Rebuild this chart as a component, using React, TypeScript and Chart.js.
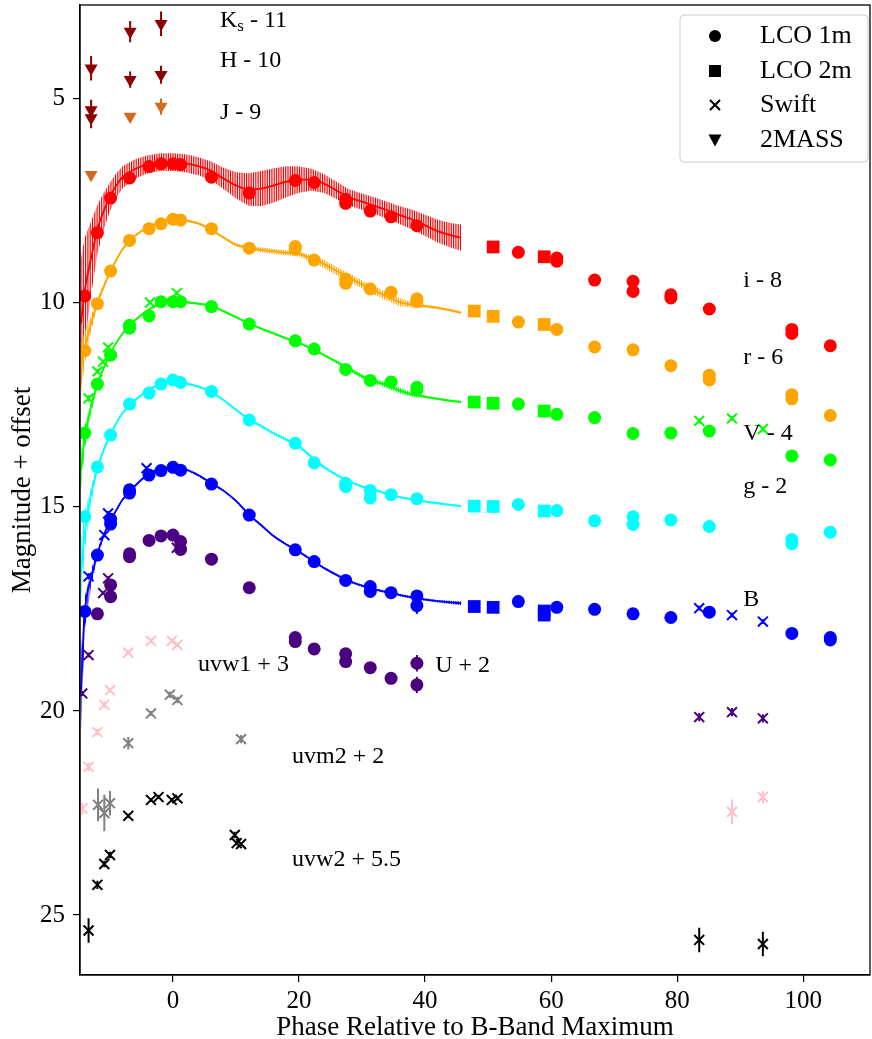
import React, { useEffect, useRef } from 'react';
import { Chart, registerables } from 'chart.js';

Chart.register(...registerables);

type P = [number, number, number?];

const FONT = "'Liberation Serif', 'Times New Roman', serif";

const xTicks = [0, 20, 40, 60, 80, 100];
const yTicks = [5, 10, 15, 20, 25];

// colours
const cI = '#ff0000';
const cR = '#ffa500';
const cV = '#00ff00';
const cG = '#00ffff';
const cB = '#0000ff';
const cU = '#4b0082';
const cW1 = '#ffc0cb';
const cM2 = '#808080';
const cW2 = '#000000';
const cKH = '#8b0000';
const cJ = '#d2691e';

// model light-curve fits (phase, magnitude, error)
const modelPhase = [-14.6, -14, -13, -12, -11, -10, -9, -8, -6, -4, -2, 0, 2, 4, 6, 8, 10, 12, 14, 16, 18, 20, 22, 24, 26, 28, 30, 32, 34, 36, 38, 40, 42, 44, 45.7];
const iModel = [10.5, 9.7, 8.9, 8.2, 7.75, 7.4, 7.12, 6.92, 6.72, 6.6, 6.55, 6.55, 6.58, 6.65, 6.76, 6.95, 7.12, 7.22, 7.2, 7.12, 7.03, 6.98, 6.98, 7.08, 7.25, 7.42, 7.52, 7.62, 7.73, 7.85, 7.96, 8.1, 8.24, 8.34, 8.4];
const iModelErr = [1.6, 1.3, 0.9, 0.6, 0.45, 0.35, 0.3, 0.27, 0.24, 0.22, 0.22, 0.22, 0.22, 0.22, 0.23, 0.26, 0.32, 0.4, 0.43, 0.42, 0.38, 0.32, 0.27, 0.23, 0.21, 0.2, 0.2, 0.2, 0.21, 0.22, 0.24, 0.26, 0.28, 0.3, 0.32];
const rModel = [11.6, 11.1, 10.5, 10.0, 9.6, 9.25, 8.95, 8.68, 8.35, 8.15, 8.0, 7.93, 7.98, 8.05, 8.2, 8.4, 8.58, 8.65, 8.7, 8.74, 8.77, 8.8, 8.92, 9.05, 9.22, 9.38, 9.55, 9.7, 9.85, 9.98, 10.05, 10.08, 10.12, 10.18, 10.24];
const rModelErr = [0.6, 0.4, 0.2, 0.1, 0.06, 0.05, 0.04, 0.03, 0.03, 0.03, 0.03, 0.03, 0.03, 0.03, 0.03, 0.03, 0.04, 0.05, 0.06, 0.06, 0.06, 0.06, 0.08, 0.1, 0.1, 0.1, 0.1, 0.1, 0.1, 0.1, 0.06, 0.04, 0.03, 0.03, 0.03];
const vModel = [14.1, 13.3, 12.55, 12.0, 11.6, 11.25, 10.98, 10.75, 10.42, 10.18, 10.02, 9.97, 9.98, 10.02, 10.07, 10.2, 10.35, 10.5, 10.63, 10.75, 10.87, 10.98, 11.12, 11.28, 11.45, 11.62, 11.8, 11.92, 12.02, 12.15, 12.25, 12.3, 12.35, 12.4, 12.43];
const vModelErr = [0.5, 0.3, 0.15, 0.08, 0.05, 0.04, 0.03, 0.03, 0.03, 0.03, 0.03, 0.03, 0.03, 0.03, 0.03, 0.03, 0.03, 0.03, 0.03, 0.03, 0.03, 0.03, 0.03, 0.03, 0.04, 0.05, 0.05, 0.06, 0.07, 0.07, 0.05, 0.03, 0.03, 0.03, 0.03];
const gModel = [16.6, 15.6, 14.7, 14.05, 13.6, 13.25, 12.95, 12.7, 12.38, 12.15, 11.98, 11.93, 11.97, 12.05, 12.17, 12.38, 12.62, 12.85, 13.02, 13.2, 13.35, 13.52, 13.78, 14.03, 14.22, 14.38, 14.5, 14.58, 14.68, 14.76, 14.82, 14.87, 14.91, 14.95, 14.98];
const gModelErr = [0.8, 0.5, 0.2, 0.1, 0.06, 0.04, 0.03, 0.03, 0.03, 0.03, 0.03, 0.03, 0.03, 0.03, 0.03, 0.03, 0.03, 0.03, 0.04, 0.04, 0.04, 0.04, 0.04, 0.04, 0.03, 0.03, 0.03, 0.03, 0.03, 0.03, 0.03, 0.03, 0.03, 0.03, 0.03];
const bModel = [19.5, 17.6, 16.75, 16.15, 15.7, 15.35, 15.08, 14.82, 14.48, 14.2, 14.06, 14.03, 14.08, 14.22, 14.41, 14.6, 14.85, 15.18, 15.45, 15.72, 15.92, 16.1, 16.3, 16.5, 16.67, 16.82, 16.93, 17.02, 17.09, 17.16, 17.22, 17.27, 17.31, 17.34, 17.36];
const bModelErr = [1.0, 0.4, 0.2, 0.1, 0.06, 0.04, 0.03, 0.03, 0.03, 0.03, 0.03, 0.03, 0.03, 0.03, 0.03, 0.03, 0.03, 0.03, 0.03, 0.03, 0.03, 0.03, 0.03, 0.03, 0.03, 0.03, 0.03, 0.03, 0.03, 0.03, 0.03, 0.03, 0.03, 0.04, 0.05];

// i - 8
const iLco1m: P[] = [[-14, 9.83], [-12, 8.28], [-9.9, 7.43], [-6.9, 6.94], [-3.8, 6.66], [-1.9, 6.59], [0, 6.59], [1.2, 6.61], [6.1, 6.92], [12.1, 7.31], [19.4, 7.0], [22.4, 7.05], [27.4, 7.46], [27.4, 7.56], [31.3, 7.75], [34.6, 7.89], [38.7, 8.11], [54.8, 8.76], [60.9, 8.9], [60.9, 8.98], [66.9, 9.44], [73, 9.47], [73, 9.72], [79, 9.8], [79, 9.88], [85.1, 10.15], [98.2, 10.65], [98.2, 10.75], [104.3, 11.05]];
const iLco2m: P[] = [[50.8, 8.63], [58.9, 8.87]];
// r - 6
const rLco1m: P[] = [[-14, 11.17], [-12, 10.02], [-9.9, 9.22], [-6.9, 8.47], [-3.8, 8.18], [-1.9, 8.06], [0, 7.95], [1.2, 7.97], [6.1, 8.18], [12.1, 8.66], [19.4, 8.62], [19.4, 8.68], [22.4, 8.95], [27.4, 9.42], [27.4, 9.52], [31.3, 9.66], [34.6, 9.74], [38.7, 9.9], [38.7, 9.97], [54.8, 10.47], [60.9, 10.65], [66.9, 11.08], [73, 11.15], [79, 11.54], [85.1, 11.77], [85.1, 11.89], [98.2, 12.25], [98.2, 12.35], [104.3, 12.76]];
const rLco2m: P[] = [[47.8, 10.2], [50.8, 10.33], [58.9, 10.53]];
// V - 4
const vLco1m: P[] = [[-14, 13.19], [-12, 11.99], [-9.9, 11.28], [-6.9, 10.55], [-6.9, 10.62], [-3.8, 10.32], [-1.9, 9.97], [0, 9.97], [1.2, 9.97], [6.1, 10.09], [12.1, 10.52], [19.4, 10.93], [22.4, 11.13], [27.4, 11.63], [31.3, 11.9], [34.6, 11.94], [38.7, 12.07], [38.7, 12.13], [54.8, 12.48], [60.9, 12.73], [66.9, 12.81], [73, 13.2], [79, 13.19], [85.1, 13.14], [98.2, 13.75], [104.3, 13.85]];
const vLco2m: P[] = [[47.8, 12.43], [50.8, 12.46], [58.9, 12.65]];
const vSwift: P[] = [[-13.4, 12.34, 0.08], [-12, 11.68, 0.06], [-11.1, 11.44, 0.05], [-10.3, 11.09, 0.05], [-3.65, 9.99, 0.04], [0.6, 9.76, 0.04], [83.5, 12.89, 0.06], [88.7, 12.83, 0.06], [93.6, 13.09, 0.06]];
// g - 2
const gLco1m: P[] = [[-14, 15.24], [-12, 14.02], [-9.9, 13.24], [-6.9, 12.48], [-3.8, 12.21], [-1.9, 11.99], [0, 11.89], [1.2, 11.95], [6.1, 12.17], [12.1, 12.87], [19.4, 13.44], [22.4, 13.92], [27.4, 14.42], [27.4, 14.5], [31.3, 14.6], [31.3, 14.78], [34.6, 14.7], [38.7, 14.8], [54.8, 14.94], [60.9, 15.09], [66.9, 15.34], [73, 15.24], [73, 15.43], [79, 15.32], [85.1, 15.48], [98.2, 15.8], [98.2, 15.9], [104.3, 15.62]];
const gLco2m: P[] = [[47.8, 14.98], [50.8, 14.99], [58.9, 15.1]];
// B
const bLco1m: P[] = [[-14, 17.56], [-12, 16.18], [-9.9, 15.3], [-9.9, 15.42], [-6.9, 14.58], [-6.9, 14.66], [-3.8, 14.22], [-1.9, 14.11], [0, 14.03], [1.2, 14.1], [6.1, 14.44], [12.1, 15.2], [19.4, 16.05], [22.4, 16.34], [27.4, 16.8], [31.3, 16.95], [31.3, 17.07], [34.6, 17.1], [38.7, 17.18], [38.7, 17.42, 0.2], [54.8, 17.32], [60.9, 17.46], [66.9, 17.51], [73, 17.62], [79, 17.71], [85.1, 17.58], [98.2, 18.1], [104.3, 18.2], [104.3, 18.26]];
const bLco2m: P[] = [[47.8, 17.44], [50.8, 17.46], [58.9, 17.55], [58.9, 17.65]];
const bSwift: P[] = [[-13.4, 16.7, 0.08], [-10.9, 15.69, 0.06], [-10.3, 15.16, 0.06], [-4.2, 14.05, 0.05], [83.5, 17.48, 0.06], [88.7, 17.65, 0.06], [93.6, 17.81, 0.06]];
// U + 2
const uLco1m: P[] = [[-12, 17.62], [-9.9, 16.91], [-9.9, 17.2], [-6.9, 16.15], [-6.9, 16.22], [-3.8, 15.82], [-1.9, 15.71], [0, 15.69], [1.2, 15.85], [1.2, 16.04], [6.1, 16.28], [12.1, 16.98], [19.4, 18.2], [19.4, 18.3], [22.4, 18.48], [27.4, 18.6], [27.4, 18.79], [31.3, 18.94], [34.6, 19.2], [38.7, 18.83, 0.2], [38.7, 19.36, 0.2]];
const uSwift: P[] = [[-14.4, 19.57, 0.06], [-13.4, 18.63, 0.06], [-11.1, 17.11, 0.05], [-10.3, 16.75, 0.05], [0.6, 16.0, 0.05], [83.5, 20.15, 0.1], [88.7, 20.03, 0.1], [93.6, 20.18, 0.1]];
// uvw1 + 3
const uvw1Swift: P[] = [[-14.4, 22.39, 0.15], [-13.4, 21.37, 0.1], [-12, 20.52, 0.08], [-10.9, 19.85, 0.08], [-10, 19.49, 0.06], [-7.1, 18.57, 0.05], [-3.5, 18.28, 0.05], [-0.2, 18.28, 0.05], [0.7, 18.38, 0.05], [88.7, 22.47, 0.3], [93.6, 22.11, 0.15]];
// uvm2 + 2
const uvm2Swift: P[] = [[-11.9, 22.3, 0.4], [-10.9, 22.5, 0.45], [-10, 22.26, 0.3], [-7.1, 20.79, 0.15], [-3.5, 20.06, 0.06], [-0.5, 19.6, 0.08], [0.7, 19.73, 0.08], [10.8, 20.69, 0.1]];
// uvw2 + 5.5
const uvw2Swift: P[] = [[-13.4, 25.38, 0.3], [-12, 24.26, 0.1], [-10.9, 23.75, 0.08], [-10, 23.53, 0.08], [-7.1, 22.57, 0.05], [-3.5, 22.18, 0.05], [-2.3, 22.11, 0.05], [-0.2, 22.18, 0.05], [0.7, 22.14, 0.05], [9.8, 23.04, 0.08], [10.1, 23.24, 0.05], [10.8, 23.26, 0.05], [83.5, 25.61, 0.3], [93.6, 25.71, 0.3]];
// 2MASS
const ksMass: P[] = [[-13, 5.27, 0.25], [-6.8, 3.35, 0.26], [-1.9, 3.16, 0.3]];
const hMass: P[] = [[-13, 4.25, 0.3], [-13, 5.47, 0.25], [-6.8, 4.53, 0.2], [-1.9, 4.41, 0.22]];
const jMass: P[] = [[-13, 6.86, 0.05], [-6.8, 5.43, 0.05], [-1.9, 5.19, 0.2]];

// band labels (text, phase, magnitude)
const bandLabels: [string, number, number][] = [
  ['H - 10', 7.46, 4.07],
  ['J - 9', 7.46, 5.34],
  ['i - 8', 90.5, 9.46],
  ['r - 6', 90.5, 11.35],
  ['V - 4', 90.5, 13.2],
  ['g - 2', 90.5, 14.51],
  ['B', 90.5, 17.28],
  ['U + 2', 41.6, 18.88],
  ['uvw1 + 3', 3.97, 18.87],
  ['uvm2 + 2', 18.9, 21.13],
  ['uvw2 + 5.5', 18.9, 23.65],
];
const ksLabel = { main: 'K', sub: 's', rest: ' - 11', x: 7.46, y: 3.08 };

const legendLabels = ['LCO 1m', 'LCO 2m', 'Swift', '2MASS'];

const toPts = (a: P[]) => a.map((p) => ({ x: p[0], y: p[1] }));
const toErr = (a: P[]) => a.map((p) => p[2] ?? 0);

const lco1m = (a: P[], c: string) => ({
  data: toPts(a), errs: toErr(a), errColor: c, showLine: false,
  pointStyle: 'circle', pointRadius: 6.5, pointBackgroundColor: c, backgroundColor: c,
  pointBorderWidth: 0, borderWidth: 0, order: 1,
});
const lco2m = (a: P[], c: string) => ({
  data: toPts(a), errs: toErr(a), errColor: c, showLine: false,
  pointStyle: 'rect', pointRadius: 9, pointBackgroundColor: c, backgroundColor: c,
  pointBorderWidth: 0, borderWidth: 0, order: 1,
});
const swift = (a: P[], c: string) => ({
  data: toPts(a), errs: toErr(a), errColor: c, showLine: false,
  pointStyle: 'crossRot', pointRadius: 7, pointBorderColor: c, borderColor: c,
  pointBorderWidth: 2, order: 1,
});
const mass = (a: P[], c: string) => ({
  data: toPts(a), errs: toErr(a), errColor: c, showLine: false,
  pointStyle: 'triangle', pointRotation: 180, pointRadius: 7.5,
  pointBackgroundColor: c, backgroundColor: c, pointBorderWidth: 0, borderWidth: 0, order: 1,
});
const model = (vals: number[], errs: number[], c: string) => ({
  data: modelPhase.map((x, k) => ({ x, y: vals[k] })), band: errs,
  showLine: true, pointRadius: 0, borderColor: c, borderWidth: 1.8,
  cubicInterpolationMode: 'monotone', order: 5,
});

const zeroPad = (s: any) => {
  s.paddingTop = 0; s.paddingBottom = 0; s.paddingLeft = 0; s.paddingRight = 0;
};

const errorPlugin = {
  id: 'errorBars',
  beforeDatasetsDraw(chart: any) {
    const { ctx, chartArea: a, scales } = chart;
    const xs = scales.x, ys = scales.y;
    ctx.save();
    ctx.beginPath();
    ctx.rect(a.left, a.top, a.right - a.left, a.bottom - a.top);
    ctx.clip();
    chart.data.datasets.forEach((ds: any) => {
      if (ds.band) {
        const d = ds.data;
        ctx.save();
        ctx.beginPath();
        d.forEach((p: any, k: number) => {
          const px = xs.getPixelForValue(p.x), py = ys.getPixelForValue(p.y - ds.band[k]);
          if (k === 0) ctx.moveTo(px, py); else ctx.lineTo(px, py);
        });
        for (let k = d.length - 1; k >= 0; k--) {
          ctx.lineTo(xs.getPixelForValue(d[k].x), ys.getPixelForValue(d[k].y + ds.band[k]));
        }
        ctx.closePath();
        ctx.clip();
        const x0 = xs.getPixelForValue(d[0].x), x1 = xs.getPixelForValue(d[d.length - 1].x);
        ctx.strokeStyle = ds.borderColor;
        ctx.lineWidth = 1.2;
        ctx.beginPath();
        for (let px = x0; px <= x1 + 0.5; px += 2.3) {
          ctx.moveTo(px, a.top);
          ctx.lineTo(px, a.bottom);
        }
        ctx.stroke();
        ctx.restore();
      }
      if (ds.errs) {
        ctx.strokeStyle = ds.errColor;
        ctx.lineWidth = 2;
        ctx.beginPath();
        ds.data.forEach((p: any, k: number) => {
          const e = ds.errs[k];
          if (!e) return;
          const px = xs.getPixelForValue(p.x);
          ctx.moveTo(px, ys.getPixelForValue(p.y - e));
          ctx.lineTo(px, ys.getPixelForValue(p.y + e));
        });
        ctx.stroke();
      }
    });
    ctx.restore();
  },
  afterDraw(chart: any) {
    const { ctx, chartArea: a, scales } = chart;
    const xs = scales.x, ys = scales.y;
    ctx.save();
    // frame (top and right spines)
    ctx.strokeStyle = '#000';
    ctx.lineWidth = 1.3;
    ctx.strokeRect(a.left, a.top, a.right - a.left, a.bottom - a.top);

    // band labels
    ctx.fillStyle = '#000';
    ctx.textAlign = 'left';
    ctx.textBaseline = 'middle';
    ctx.font = `24px ${FONT}`;
    bandLabels.forEach(([t, px, py]) => {
      ctx.fillText(t, xs.getPixelForValue(px), ys.getPixelForValue(py));
    });
    // Ks label with subscript
    let kx = xs.getPixelForValue(ksLabel.x);
    const ky = ys.getPixelForValue(ksLabel.y);
    ctx.fillText(ksLabel.main, kx, ky);
    kx += ctx.measureText(ksLabel.main).width;
    ctx.font = `17px ${FONT}`;
    ctx.fillText(ksLabel.sub, kx, ky + 6);
    kx += ctx.measureText(ksLabel.sub).width;
    ctx.font = `24px ${FONT}`;
    ctx.fillText(ksLabel.rest, kx, ky);

    // legend
    const lx = 680, ly = 15, lw = 188, lh = 147;
    ctx.beginPath();
    ctx.roundRect(lx, ly, lw, lh, 4);
    ctx.fillStyle = 'rgba(255,255,255,0.85)';
    ctx.fill();
    ctx.strokeStyle = '#cccccc';
    ctx.lineWidth = 1;
    ctx.stroke();
    const rows = [36, 71, 105, 140];
    const mx = 715;
    ctx.fillStyle = '#000';
    ctx.strokeStyle = '#000';
    ctx.beginPath(); ctx.arc(mx, rows[0], 6, 0, Math.PI * 2); ctx.fill();
    ctx.fillRect(mx - 6, rows[1] - 6, 12, 12);
    ctx.lineWidth = 2.2;
    ctx.beginPath();
    ctx.moveTo(mx - 5, rows[2] - 5); ctx.lineTo(mx + 5, rows[2] + 5);
    ctx.moveTo(mx + 5, rows[2] - 5); ctx.lineTo(mx - 5, rows[2] + 5);
    ctx.stroke();
    ctx.beginPath();
    ctx.moveTo(mx - 6.5, rows[3] - 5.5); ctx.lineTo(mx + 6.5, rows[3] - 5.5); ctx.lineTo(mx, rows[3] + 6.5);
    ctx.closePath(); ctx.fill();
    ctx.font = `26px ${FONT}`;
    ctx.textBaseline = 'middle';
    legendLabels.forEach((t, k) => ctx.fillText(t, 760, rows[k]));
    ctx.restore();
  },
};

export default function App() {
  const ref = useRef<HTMLCanvasElement | null>(null);
  useEffect(() => {
    if (!ref.current) return;
    const datasets: any[] = [
      model(iModel, iModelErr, cI),
      model(rModel, rModelErr, cR),
      model(vModel, vModelErr, cV),
      model(gModel, gModelErr, cG),
      model(bModel, bModelErr, cB),
      lco1m(iLco1m, cI), lco2m(iLco2m, cI),
      lco1m(rLco1m, cR), lco2m(rLco2m, cR),
      lco1m(vLco1m, cV), lco2m(vLco2m, cV), swift(vSwift, cV),
      lco1m(gLco1m, cG), lco2m(gLco2m, cG),
      lco1m(bLco1m, cB), lco2m(bLco2m, cB), swift(bSwift, cB),
      lco1m(uLco1m, cU), swift(uSwift, cU),
      swift(uvw1Swift, cW1),
      swift(uvm2Swift, cM2),
      swift(uvw2Swift, cW2),
      mass(ksMass, cKH), mass(hMass, cKH), mass(jMass, cJ),
    ];
    const tickFont = { family: FONT, size: 25 };
    const chart = new Chart(ref.current, {
      type: 'scatter',
      data: { datasets },
      options: {
        animation: false,
        responsive: false,
        events: [],
        layout: { autoPadding: false, padding: { top: 5, right: 2, left: 0, bottom: 0 } },
        plugins: { legend: { display: false }, tooltip: { enabled: false } },
        scales: {
          x: {
            type: 'linear', min: -14.76, max: 110.6,
            afterBuildTicks: (s: any) => { s.ticks = xTicks.map((v) => ({ value: v })); },
            afterFit: (s: any) => { s.height = 64; zeroPad(s); },
            ticks: { font: tickFont, color: '#000', padding: 4, maxRotation: 0 },
            grid: { display: true, drawOnChartArea: false, drawTicks: true, tickLength: 7, color: '#000', lineWidth: 1.2 },
            border: { display: true, color: '#000', width: 1.3 },
            title: { display: true, text: 'Phase Relative to B-Band Maximum', color: '#000', font: { family: FONT, size: 27, lineHeight: 1.0 }, padding: { top: 0, bottom: -2 } },
          },
          y: {
            type: 'linear', reverse: true, min: 2.7, max: 26.47,
            afterBuildTicks: (s: any) => { s.ticks = yTicks.map((v) => ({ value: v })); },
            afterFit: (s: any) => { s.width = 80; zeroPad(s); },
            ticks: { font: tickFont, color: '#000', padding: 8 },
            grid: { display: true, drawOnChartArea: false, drawTicks: true, tickLength: 7, color: '#000', lineWidth: 1.2 },
            border: { display: true, color: '#000', width: 1.3 },
            title: { display: true, text: 'Magnitude + offset', color: '#000', font: { family: FONT, size: 27, lineHeight: 1.0 }, padding: { top: 9, bottom: 0 } },
          },
        },
      } as any,
      plugins: [errorPlugin],
    });
    return () => chart.destroy();
  }, []);
  return (
    <div style={{ position: 'absolute', left: 0, top: 0, width: 872, height: 1039, background: '#fff' }}>
      <canvas ref={ref} width={872} height={1039} style={{ display: 'block' }} />
    </div>
  );
}
